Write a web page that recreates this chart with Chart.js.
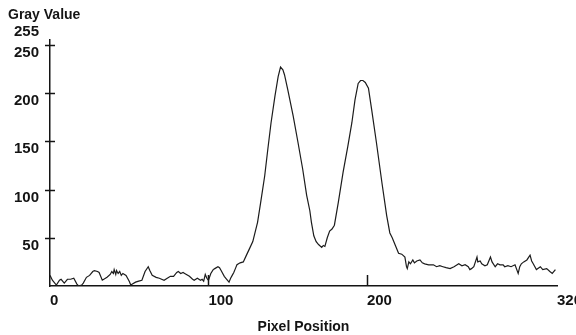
<!DOCTYPE html>
<html>
<head>
<meta charset="utf-8">
<title>Gray Value profile</title>
<script src="https://cdn.jsdelivr.net/npm/chart.js@4/dist/chart.umd.min.js"></script>
<style>
  html, body { margin: 0; padding: 0; background: #fff; }
  #wrap { width: 576px; height: 335px; }
</style>
</head>
<body>
<div id="wrap"><canvas id="profile" width="576" height="335"></canvas></div>
<script>
// --- Data ---
const pixelPos = [
  0, 1.5, 4, 6, 7, 9, 11, 13, 15, 17, 18, 20, 21, 23, 25, 27, 28, 30, 31, 33,
  35, 36, 38, 39, 40, 40.5, 41.5, 42, 43, 44, 45, 46, 48, 50, 51, 52, 54, 56, 58, 60,
  62, 63, 64.5, 67, 69, 72, 74, 76, 78, 80, 81, 82.5, 84, 85, 88, 90, 91, 93, 95, 96,
  97, 98, 99, 100, 101.5, 103, 104, 106, 107, 108, 110, 111, 113, 114, 115, 116, 117, 118, 120, 122,
  124, 126, 128, 131, 133, 135.5, 137.5, 139.5, 142, 144, 145.5, 147, 148, 150, 153.5, 156.5, 159.5, 162, 164, 165,
  166.5, 168, 169.5, 171.5, 172.5, 173.5, 175, 176.5, 178, 179.5, 182, 185, 188, 190.5, 192.5, 194.5, 196, 197.5, 199, 201,
  203, 206, 209.5, 212.5, 214.5, 216, 218, 220, 222, 224, 225, 225.5, 226.5, 227.5, 229, 230, 231.5, 233.5, 235, 236.5,
  239, 242, 244, 246, 248, 250, 252.5, 255, 258, 260, 262, 264, 265, 266, 267.5, 269.5, 270, 271.5, 272.5, 274.5,
  276, 278, 279, 281, 282.5, 284, 286, 287, 289, 291, 293.5, 295.5, 296.5, 297.5, 299, 301, 303, 304, 305, 307,
  309.5, 311, 313.5, 315.5, 317, 319
];
const grayValue = [
  11, 6, 1, 6, 7, 3, 7, 7, 8, 2, 0, 1, 3, 9, 11, 15, 16, 15, 14, 6,
  8, 9, 12, 15, 13, 17, 12, 16, 13, 15, 11, 13, 11, 5, 1, 2, 4, 5, 6, 15,
  20, 16, 11, 9, 8, 6, 8, 10, 10, 14, 15, 13, 14, 13, 10, 7, 6, 8, 6, 7,
  5, 12, 8, 6, 13, 17, 18, 20, 19, 16, 10, 8, 4, 8, 11, 14, 18, 22, 24, 25,
  32, 39, 46, 66, 87, 114, 142, 169, 197, 217, 227, 224, 219, 204, 176, 149, 121, 94, 78, 66,
  52, 46, 43, 40, 42, 41, 50, 57, 59, 63, 87, 118, 145, 169, 193, 210, 213, 213, 211, 205,
  183, 149, 107, 73, 55, 50, 42, 34, 33, 30, 20, 18, 25, 23, 27, 24, 26, 27, 24, 23,
  22, 22, 20, 21, 20, 19, 18, 20, 23, 21, 22, 20, 17, 18, 20, 30, 25, 26, 23, 21,
  22, 30, 25, 20, 23, 22, 22, 20, 21, 20, 22, 13, 20, 23, 25, 27, 32, 26, 23, 17,
  20, 17, 18, 15, 13, 17
];

// --- Axis ticks ---
const xTicks = [0, 100, 200, 320];
const yTicks = [50, 100, 150, 200, 250];
const yMax = 255;
const xMax = 320;

const INK = '#141414';
const FAMILY = "'Liberation Sans', Arial, sans-serif";
const TICK_FONT = { family: FAMILY, size: 15, weight: 'bold' };
const TITLE_FONT = { family: FAMILY, size: 14, weight: 'bold' };

/**
 * Draws the crossing tick marks on the y axis, the short inner ticks
 * on the x axis and the "Gray Value" / "255" labels at the top.
 */
const profileDecor = {
  id: 'profileDecor',
  afterDraw(chart) {
    const { ctx, chartArea } = chart;
    const xs = chart.scales.x;
    const ys = chart.scales.y;
    const axisX = xs.getPixelForValue(0);

    ctx.save();
    ctx.strokeStyle = INK;
    ctx.lineWidth = 1.5;

    // --- y ticks cross the axis ---
    yTicks.forEach((v) => {
      const py = Math.round(ys.getPixelForValue(v)) + 0.5;
      ctx.beginPath();
      ctx.moveTo(axisX - 5, py);
      ctx.lineTo(axisX + 5, py);
      ctx.stroke();
    });

    // --- x ticks point up into the plot ---
    xTicks.filter((v) => v > 0 && v < xMax).forEach((v) => {
      const px = Math.round(xs.getPixelForValue(v)) + 0.5;
      ctx.beginPath();
      ctx.moveTo(px, chartArea.bottom);
      ctx.lineTo(px, chartArea.bottom - 11);
      ctx.stroke();
    });

    // --- top labels ---
    ctx.fillStyle = INK;
    ctx.textBaseline = 'middle';
    ctx.textAlign = 'right';
    ctx.font = `bold ${TICK_FONT.size}px ${FAMILY}`;
    ctx.fillText(String(yMax), axisX - 11, ys.getPixelForValue(yMax) - 8);
    ctx.textAlign = 'left';
    ctx.font = `bold ${TITLE_FONT.size}px ${FAMILY}`;
    ctx.fillText('Gray Value', 8, 15);
    ctx.restore();
  },
};

new Chart(document.getElementById('profile'), {
  type: 'line',
  data: {
    datasets: [
      {
        label: 'Gray Value',
        data: pixelPos.map((x, i) => ({ x, y: grayValue[i] })),
        borderColor: '#1c1c1c',
        borderWidth: 1.2,
        pointRadius: 0,
        tension: 0,
        fill: false,
      },
    ],
  },
  options: {
    responsive: false,
    animation: false,
    layout: { padding: { top: 40, right: 19, bottom: 0, left: 0 } },
    plugins: {
      legend: { display: false },
      tooltip: { enabled: false },
    },
    scales: {
      x: {
        type: 'linear',
        min: 0,
        max: xMax,
        afterBuildTicks: (s) => { s.ticks = xTicks.map((value) => ({ value })); },
        afterFit: (s) => { s.height = 49; s.paddingLeft = 0; s.paddingRight = 0; },
        ticks: { align: 'start', autoSkip: false, maxRotation: 0, padding: 6, color: INK, font: TICK_FONT },
        grid: { display: false, drawTicks: false },
        border: { display: true, color: INK, width: 1.5 },
        title: { display: true, text: 'Pixel Position', color: INK, font: TITLE_FONT, padding: { top: 0, bottom: -1 } },
      },
      y: {
        min: 0,
        max: yMax,
        afterBuildTicks: (s) => { s.ticks = yTicks.map((value) => ({ value })); },
        afterFit: (s) => { s.width = 50; s.paddingTop = 0; s.paddingBottom = 0; },
        ticks: { autoSkip: false, padding: 11, labelOffset: 8, color: INK, font: TICK_FONT },
        grid: { display: false, drawTicks: false },
        border: { display: true, color: INK, width: 1.5 },
      },
    },
  },
  plugins: [profileDecor],
});
</script>
</body>
</html>
